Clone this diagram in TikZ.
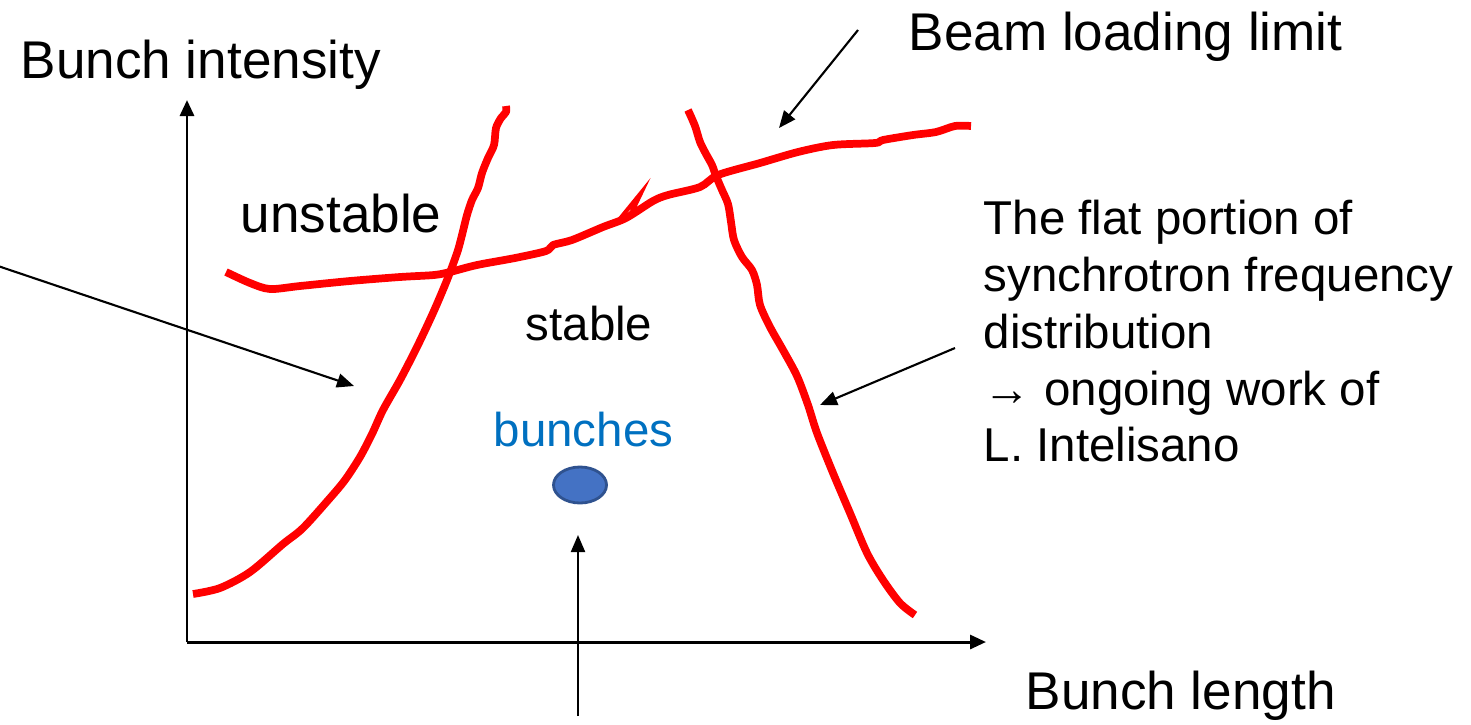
\documentclass[tikz,border=0pt]{standalone}
\usepackage{fontspec}
\setmainfont{Liberation Sans}
\usetikzlibrary{arrows.meta,shapes.geometric}
\definecolor{redline}{RGB}{255,0,0}
\definecolor{bluetext}{RGB}{0,112,192}
\definecolor{bunchfill}{RGB}{68,114,196}
\definecolor{bunchedge}{RGB}{47,82,143}
\begin{document}
\begin{tikzpicture}[x=0.01cm,y=-0.01cm,
  redcurve/.style={draw=redline, line width=2.2pt, line cap=butt, line join=round},
  axisline/.style={draw=black, line width=0.85pt, -{Triangle[length=0.16cm,width=0.14cm]}},
  pointer/.style={draw=black, line width=0.6pt, -{Triangle[length=0.17cm,width=0.14cm]}},
  bigtext/.style={font=\fontsize{15.1}{18}\selectfont, inner sep=0pt, anchor=base west},
  smalltext/.style={font=\fontsize{13.5}{16.2}\selectfont, inner sep=0pt, anchor=base west},
]
\useasboundingbox (0,0) rectangle (1471,724);

% axes
\coordinate (origin) at (187,642);
\coordinate (ytop) at (187,100);
\coordinate (xend) at (986,642);
\draw[axisline] (origin) -- (ytop);
\draw[axisline] (origin) -- (xend);

% texts
\node[bigtext] (ylabel) at (20,78) {Bunch intensity};
\node[bigtext] (xlabel) at (1025,709) {Bunch length};
\node[bigtext] (beamlabel) at (908,50) {Beam loading limit};
\node[bigtext] (unstable) at (240,232) {unstable};
\node[smalltext] (stable) at (525,340) {stable};
\node[smalltext, text=bluetext] (bunchlabel) at (493,446) {bunches};
\node[smalltext, anchor=north west, align=left] (flatlabel) at (983,199)
  {The flat portion of\\synchrotron frequency\\distribution\\→ ongoing work of\\L. Intelisano};

% bunch
\node[ellipse, draw=bunchedge, fill=bunchfill, line width=0.8pt,
      minimum width=0.53cm, minimum height=0.36cm, inner sep=0pt] (bunch) at (580,485) {};

% red curves
\draw[redcurve] plot[smooth, tension=0.5] coordinates {
  (193,594) (220,588) (250,572) (283,544) (303,528) (330,498) (345,480)
  (360,457) (372,434) (383,410) (400,380) (417,347) (433,313) (445,285)
  (452,267) (458,250) (462,235) (467,215) (472,200) (478,188) (482,173)
  (488,158) (494,145) (496,128) (501,118) (506,112) (506,106)};
\draw[redcurve] plot[smooth, tension=0.5] coordinates {
  (688,110) (695,126) (700,142) (706,154) (712,165) (716,176) (722,190)
  (728,204) (731,222) (734,240) (742,257) (752,270) (757,285) (760,305)
  (770,327) (783,350) (797,376) (808,405) (817,433) (833,473) (850,513)
  (867,553) (883,580) (900,603) (915,615)};
\draw[redcurve] plot[smooth, tension=0.5] coordinates {
  (226,272) (250,283) (270,289) (300,286) (350,281) (400,277) (434,275)
  (450,272) (477,265) (515,258) (546,251) (553,245) (572,240) (603,227)
  (626,218) (653,201) (668,195) (700,187) (718,175) (760,163) (798,152)
  (833,145) (875,143) (883,140) (913,135) (936,132) (955,126) (971,126)};
\draw[draw=redline, line width=1.2pt, line join=miter] (619,220) -- (641,193) -- (630,216);

% pointers
\coordinate (lpfrom) at (-2,266);
\coordinate (lpto) at (354,386);
\draw[pointer] (lpfrom) -- (lpto);
\coordinate (bmfrom) at (858,30);
\coordinate (bmto) at (779,128);
\draw[pointer] (bmfrom) -- (bmto);
\coordinate (rpfrom) at (955,348);
\coordinate (rpto) at (820,405);
\draw[pointer] (rpfrom) -- (rpto);
\coordinate (bpfrom) at (578,716);
\coordinate (bpto) at (578,535);
\draw[pointer] (bpfrom) -- (bpto);
\end{tikzpicture}
\end{document}
